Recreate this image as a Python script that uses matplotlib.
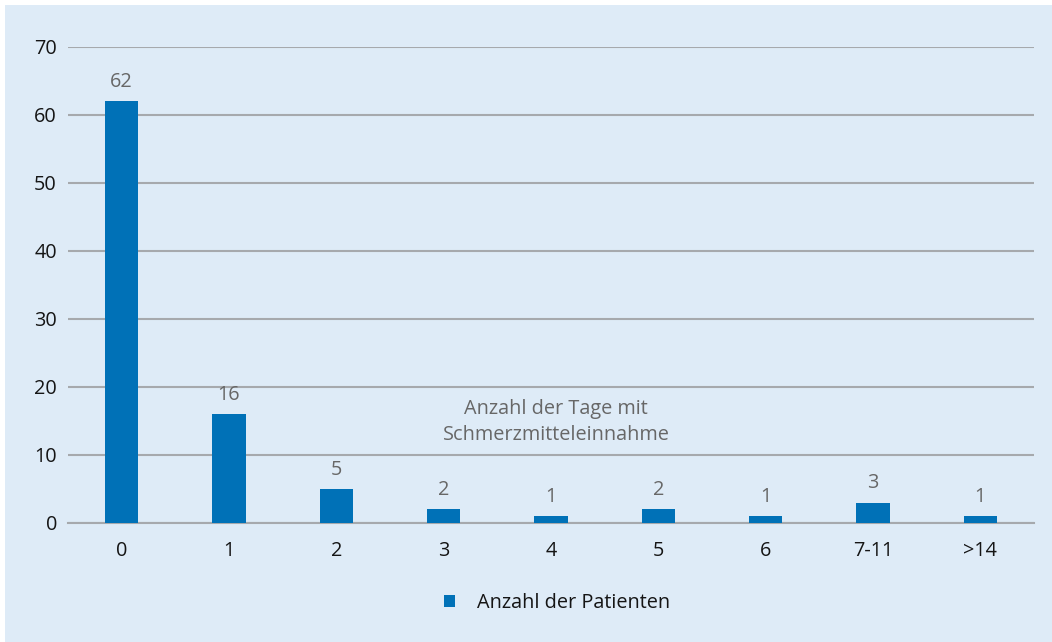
import matplotlib
matplotlib.use("Agg")
import matplotlib.pyplot as plt
from matplotlib.patches import Rectangle

plt.rcParams['font.family'] = ['Open Sans', 'DejaVu Sans']

categories = ["0", "1", "2", "3", "4", "5", "6", "7-11", ">14"]
patients = [62, 16, 5, 2, 1, 2, 1, 3, 1]
y_ticks = [0, 10, 20, 30, 40, 50, 60, 70]
series_label = "Anzahl der Patienten"
note = "Anzahl der Tage mit\nSchmerzmitteleinnahme"

bg = "#deebf7"
bar_color = "#0071b7"
grid_color = "#a6a9ad"
label_gray = "#676767"
ink = "#151515"
fs = 14.3

W, H = 1052, 642
fig = plt.figure(figsize=(W / 100, H / 100), dpi=100, facecolor=bg)
# thin white margin along the top and left edges
fig.patches.append(Rectangle((0, 1 - 5 / H), 1, 5 / H, transform=fig.transFigure,
                             facecolor="white", edgecolor="none", zorder=-5))
fig.patches.append(Rectangle((0, 0), 5 / W, 1, transform=fig.transFigure,
                             facecolor="white", edgecolor="none", zorder=-5))

ax = fig.add_axes([68 / W, (H - 523) / H, (1034 - 68) / W, (523 - 47) / H])
ax.set_facecolor("none")

x = list(range(len(categories)))
bars = ax.bar(x, patients, width=0.31, color=bar_color, zorder=3)
for xi, v in zip(x, patients):
    ax.text(xi, v + 2.1, str(v), ha="center", va="baseline",
            fontsize=fs, color=label_gray)

ax.set_xlim(-0.5, len(categories) - 0.5)
ax.set_ylim(0, 70)
ax.set_yticks(y_ticks)
ax.set_xticks(x)
ax.set_xticklabels(categories)
ax.tick_params(axis="both", length=0, labelsize=fs, colors=ink)
ax.tick_params(axis="y", pad=8)
ax.tick_params(axis="x", pad=13)
ax.yaxis.grid(True, color=grid_color, linewidth=1.5, zorder=1)
ax.set_axisbelow(True)
for s in ["top", "right", "left"]:
    ax.spines[s].set_visible(False)
ax.spines["bottom"].set_color(grid_color)
ax.spines["bottom"].set_linewidth(1.5)

ax.text(4.05, 14.85, note, ha="center", va="center", fontsize=fs,
        color=label_gray, linespacing=1.4)

leg = fig.legend([bars], [series_label], loc="center",
                 bbox_to_anchor=(557 / W, (H - 603) / H), frameon=False,
                 fontsize=fs, handlelength=0.6, handleheight=0.6,
                 handletextpad=1.1)
for t in leg.get_texts():
    t.set_color(ink)

fig.savefig("out.png", dpi=100, facecolor=fig.get_facecolor())
